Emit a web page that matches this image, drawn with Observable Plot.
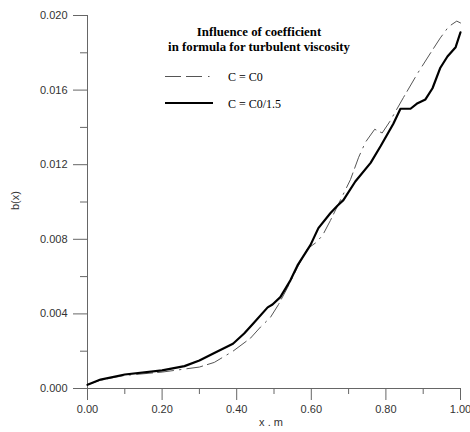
<!DOCTYPE html>
<html>
<head>
<meta charset="utf-8">
<script src="https://cdn.jsdelivr.net/npm/d3@7"></script>
<script src="https://cdn.jsdelivr.net/npm/@observablehq/plot@0.6"></script>
<style>
  html, body { margin: 0; padding: 0; background: #fff; }
  #chart { width: 470px; height: 432px; }
</style>
</head>
<body>
<div id="chart"></div>
<script>
// Series C = C0 (dashed)
const xC0 = [0, 0.035, 0.1, 0.2, 0.3, 0.34, 0.39, 0.437, 0.464, 0.49, 0.512, 0.536, 0.563, 0.59, 0.611, 0.63, 0.651, 0.678, 0.705, 0.727, 0.745, 0.77, 0.79, 0.81, 0.847, 0.885, 0.92, 0.946, 0.968, 0.99, 1.0];
const yC0 = [0.0002, 0.00045, 0.0007, 0.00088, 0.00115, 0.0014, 0.002, 0.0027, 0.0033, 0.0038, 0.0045, 0.0054, 0.0065, 0.0075, 0.0078, 0.0082, 0.009, 0.0101, 0.0112, 0.0124, 0.0132, 0.0139, 0.0137, 0.0143, 0.0156, 0.0169, 0.018, 0.0188, 0.0194, 0.0197, 0.0196];
// Series C = C0/1.5 (solid)
const xC15 = [0, 0.035, 0.1, 0.2, 0.26, 0.3, 0.34, 0.39, 0.42, 0.445, 0.483, 0.496, 0.517, 0.544, 0.563, 0.598, 0.619, 0.651, 0.67, 0.686, 0.718, 0.759, 0.786, 0.82, 0.839, 0.866, 0.885, 0.906, 0.925, 0.946, 0.965, 0.987, 1.0];
const yC15 = [0.0002, 0.00048, 0.00075, 0.00097, 0.0012, 0.0015, 0.0019, 0.0024, 0.00295, 0.0035, 0.00435, 0.0045, 0.0049, 0.0058, 0.0066, 0.0077, 0.0086, 0.0094, 0.0098, 0.0101, 0.0111, 0.0121, 0.013, 0.0142, 0.015, 0.015, 0.0153, 0.0155, 0.0161, 0.0172, 0.0178, 0.0183, 0.0191];

const xMajor = [0, 0.2, 0.4, 0.6, 0.8, 1.0];
const xMinor = [0.1, 0.3, 0.5, 0.7, 0.9];
const yMajor = [0, 0.004, 0.008, 0.012, 0.016, 0.020];
const yMinor = [0.002, 0.006, 0.010, 0.014, 0.018];

const legendTitle = ["Influence of coefficient", "in formula for turbulent viscosity"];
const seriesNames = ["C = C0", "C = C0/1.5"];
const xLabel = "x . m";
const yLabel = "b(x)";

const c0 = xC0.map((x, i) => ({x, y: yC0[i]}));
const c15 = xC15.map((x, i) => ({x, y: yC15[i]}));

const axisColor = "#666";
const dash = "16,5,16,6,1.5,6";

const plot = Plot.plot({
  width: 470,
  height: 432,
  marginLeft: 87,
  marginRight: 10,
  marginTop: 15,
  marginBottom: 44,
  style: {fontFamily: "'Liberation Sans', Arial, sans-serif", fontSize: "11px", color: "#333", background: "#fff"},
  x: {domain: [0, 1]},
  y: {domain: [0, 0.02]},
  marks: [
    Plot.axisY(yMinor, {tickSize: 7, tickFormat: () => "", stroke: axisColor, label: null}),
    Plot.axisY(yMajor, {tickSize: 14, tickPadding: 6, tickFormat: d => d.toFixed(3), stroke: axisColor, label: null, fontSize: 11}),
    Plot.axisX(xMinor, {tickSize: 6, tickFormat: () => "", stroke: axisColor, label: null}),
    Plot.axisX(xMajor, {tickSize: 12, tickPadding: 5, tickFormat: d => d.toFixed(2), stroke: axisColor, label: null, fontSize: 11}),
    Plot.ruleX([0], {y1: 0, y2: 0.02, stroke: axisColor}),
    Plot.ruleY([0], {x1: 0, x2: 1, stroke: axisColor}),
    Plot.line(c0, {x: "x", y: "y", stroke: "#555", strokeWidth: 1, strokeDasharray: dash}),
    Plot.line(c15, {x: "x", y: "y", stroke: "#000", strokeWidth: 2.2}),
    Plot.text([yLabel], {text: d => d, frameAnchor: "left", rotate: -90, dx: -72, dy: 8, fontSize: 11, fill: "#333"}),
    Plot.text([xLabel], {text: d => d, frameAnchor: "bottom", dx: -3, dy: 37, fontSize: 11, fill: "#333"})
  ]
});

document.getElementById("chart").appendChild(plot);

// Legend (annotation block in upper-left of the frame)
const svg = d3.select(plot);
const g = svg.append("g").attr("font-family", "'Liberation Serif', 'Times New Roman', serif").attr("fill", "#000").attr("text-anchor", "start");
g.append("text").attr("x", 259).attr("y", 36).attr("text-anchor", "middle").attr("font-weight", "bold").attr("font-size", 12.8).text(legendTitle[0]);
g.append("text").attr("x", 259).attr("y", 51).attr("text-anchor", "middle").attr("font-weight", "bold").attr("font-size", 12.8).text(legendTitle[1]);
g.append("line").attr("x1", 165).attr("x2", 213).attr("y1", 76.5).attr("y2", 76.5).attr("stroke", "#555").attr("stroke-width", 1).attr("stroke-dasharray", dash);
g.append("line").attr("x1", 165).attr("x2", 213).attr("y1", 103).attr("y2", 103).attr("stroke", "#000").attr("stroke-width", 2.2);
g.append("text").attr("x", 228).attr("y", 80.5).attr("text-anchor", "start").attr("font-size", 12).text(seriesNames[0]);
g.append("text").attr("x", 228).attr("y", 107.5).attr("text-anchor", "start").attr("font-size", 12).text(seriesNames[1]);
</script>
</body>
</html>
